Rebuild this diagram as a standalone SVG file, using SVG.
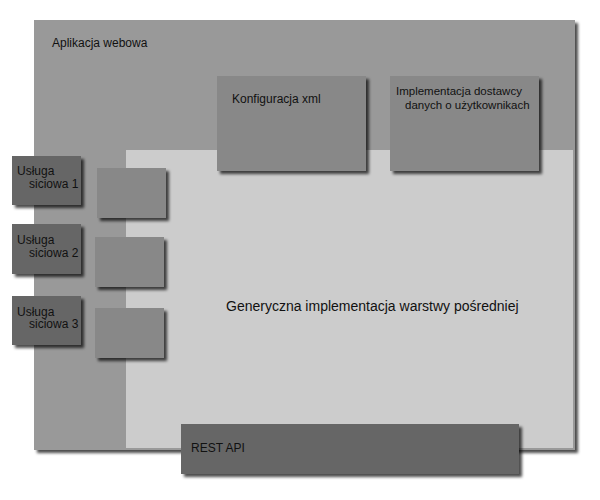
<svg xmlns="http://www.w3.org/2000/svg" width="600" height="500" viewBox="0 0 600 500">
<defs>
<filter id="sh" x="-10%" y="-10%" width="130%" height="130%">
<feDropShadow dx="3" dy="3" stdDeviation="1.5" flood-color="#000" flood-opacity="0.7"/>
</filter>
</defs>
<style>
text{font-family:"Liberation Sans",Arial,sans-serif;font-size:12px;fill:#111}
.dark{fill:#666}
.mid{fill:#888}
</style>
<rect width="600" height="500" fill="#fff"/>
<g id="aplikacja">
<rect x="34" y="20" width="541" height="430" fill="#999" filter="url(#sh)"/>
<rect x="126" y="150" width="447" height="298" fill="#ccc"/>
<text x="52" y="47">Aplikacja webowa</text>
</g>
<g id="generyczna">
<text x="226" y="311" style="font-size:14px">Generyczna implementacja warstwy pośredniej</text>
</g>
<g id="konfiguracja">
<rect class="mid" x="217" y="76" width="149" height="95" filter="url(#sh)"/>
<text x="232" y="103">Konfiguracja xml</text>
</g>
<g id="dostawca">
<rect class="mid" x="390" y="76" width="149" height="95" filter="url(#sh)"/>
<text x="396" y="95" style="font-size:11.5px">Implementacja dostawcy</text>
<text x="405" y="109" style="font-size:11.5px">danych o użytkownikach</text>
</g>
<g id="usluga1">
<rect class="dark" x="12" y="156" width="69" height="49" filter="url(#sh)"/>
<text x="17" y="175">Usługa</text>
<text x="29" y="188">siciowa 1</text>
</g>
<g id="usluga2">
<rect class="dark" x="12" y="224" width="69" height="50" filter="url(#sh)"/>
<text x="17" y="244">Usługa</text>
<text x="29" y="257">siciowa 2</text>
</g>
<g id="usluga3">
<rect class="dark" x="12" y="296" width="69" height="49" filter="url(#sh)"/>
<text x="17" y="316">Usługa</text>
<text x="29" y="328">siciowa 3</text>
</g>
<g id="box1"><rect class="mid" x="97" y="168" width="69" height="50" filter="url(#sh)"/></g>
<g id="box2"><rect class="mid" x="95" y="237" width="69" height="50" filter="url(#sh)"/></g>
<g id="box3"><rect class="mid" x="95" y="308" width="69" height="50" filter="url(#sh)"/></g>
<g id="rest">
<rect class="dark" x="181" y="424" width="338" height="50" filter="url(#sh)"/>
<text x="191" y="452">REST API</text>
</g>
<g id="connectors"></g>
</svg>
